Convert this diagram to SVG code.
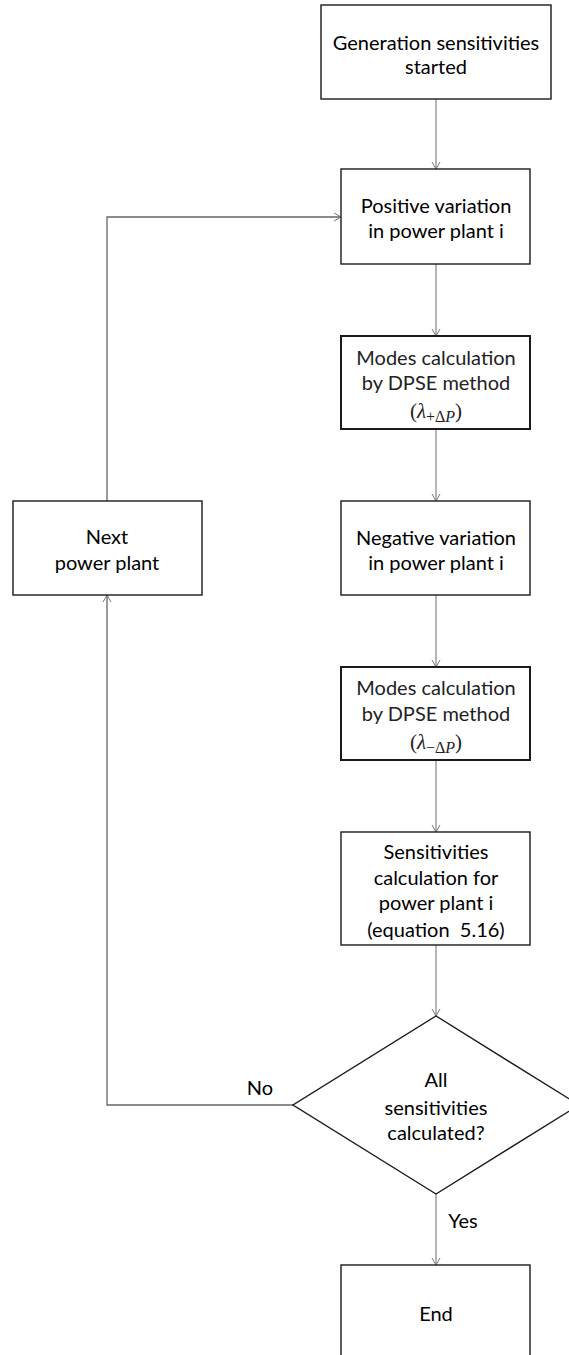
<svg xmlns="http://www.w3.org/2000/svg" width="569" height="1355" viewBox="0 0 569 1355">
<defs>
<style>
.box{fill:#fff;stroke:#1a1a1a;stroke-width:1.4}
.box2{fill:#fff;stroke:#1a1a1a;stroke-width:2}
.t{font-family:Lato,"Liberation Sans",sans-serif;font-size:20px;fill:#000;text-anchor:middle}
.tl{font-family:Lato,"Liberation Sans",sans-serif;font-size:20px;fill:#222;text-anchor:middle}
.m{font-family:"Liberation Serif","DejaVu Serif",serif;font-size:21px;fill:#222;text-anchor:middle}
.c{fill:none;stroke:#8f8f8f;stroke-width:1.3}
.c2{fill:none;stroke:#666;stroke-width:1.3}
</style>
<marker id="ah" markerWidth="10" markerHeight="10" refX="8" refY="5" orient="auto" markerUnits="userSpaceOnUse">
<path d="M1,1 L8,5 L1,9" fill="none" stroke="#777" stroke-width="1"/>
</marker>
</defs>
<rect width="569" height="1355" fill="#fff"/>
<g id="connectors">
<line class="c" x1="436" y1="99" x2="436" y2="169" marker-end="url(#ah)"/>
<line class="c" x1="436" y1="264" x2="436" y2="336" marker-end="url(#ah)"/>
<line class="c" x1="436" y1="429" x2="436" y2="501" marker-end="url(#ah)"/>
<line class="c" x1="436" y1="595" x2="436" y2="667" marker-end="url(#ah)"/>
<line class="c" x1="436" y1="760" x2="436" y2="832" marker-end="url(#ah)"/>
<line class="c" x1="436" y1="945" x2="436" y2="1016" marker-end="url(#ah)"/>
<line class="c" x1="436" y1="1194" x2="436" y2="1265" marker-end="url(#ah)"/>
<polyline class="c2" points="293,1105 107,1105 107,595" marker-end="url(#ah)"/>
<polyline class="c2" points="107,501 107,217 341,217" marker-end="url(#ah)"/>
<text class="t" x="260" y="1095">No</text>
<text class="t" x="463" y="1228">Yes</text>
</g>
<g id="start">
<rect class="box" x="321" y="5" width="230" height="94"/>
<text class="t" x="436" y="50">Generation sensitivities</text>
<text class="t" x="436" y="74">started</text>
</g>
<g id="positive">
<rect class="box" x="341" y="169" width="189" height="95"/>
<text class="t" x="436" y="213">Positive variation</text>
<text class="t" x="436" y="238">in power plant i</text>
</g>
<g id="modes-plus">
<rect class="box2" x="341" y="336" width="189" height="93"/>
<text class="tl" x="436" y="365">Modes calculation</text>
<text class="tl" x="436" y="390">by DPSE method</text>
<text class="m" x="436" y="418">(<tspan font-style="italic">λ</tspan><tspan font-size="16" dy="4">+Δ<tspan font-style="italic">P</tspan></tspan><tspan dy="-4">)</tspan></text>
</g>
<g id="negative">
<rect class="box" x="341" y="501" width="189" height="94"/>
<text class="t" x="436" y="545">Negative variation</text>
<text class="t" x="436" y="570">in power plant i</text>
</g>
<g id="modes-minus">
<rect class="box2" x="341" y="667" width="189" height="93"/>
<text class="tl" x="436" y="695">Modes calculation</text>
<text class="tl" x="436" y="721">by DPSE method</text>
<text class="m" x="436" y="749">(<tspan font-style="italic">λ</tspan><tspan font-size="16" dy="4">−Δ<tspan font-style="italic">P</tspan></tspan><tspan dy="-4">)</tspan></text>
</g>
<g id="sensitivities">
<rect class="box" x="341" y="832" width="189" height="113"/>
<text class="t" x="436" y="859">Sensitivities</text>
<text class="t" x="436" y="885">calculation for</text>
<text class="t" x="436" y="910">power plant i</text>
<text class="t" x="436" y="937">(equation&#160; 5.16)</text>
</g>
<g id="next">
<rect class="box" x="13" y="501" width="189" height="94"/>
<text class="t" x="107" y="544">Next</text>
<text class="t" x="107" y="570">power plant</text>
</g>
<g id="decision">
<polygon class="box" points="436,1016 579,1105 436,1194 293,1105"/>
<text class="t" x="436" y="1087">All</text>
<text class="t" x="436" y="1115">sensitivities</text>
<text class="t" x="436" y="1140">calculated?</text>
</g>
<g id="end">
<rect class="box" x="341" y="1265" width="189" height="100"/>
<text class="t" x="436" y="1321">End</text>
</g>
</svg>
